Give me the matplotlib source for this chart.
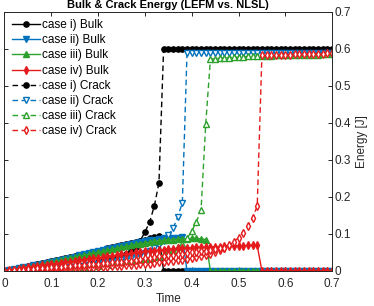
import numpy as np
import matplotlib
matplotlib.use('Agg')
import matplotlib.pyplot as plt

plt.rcParams['font.family'] = ['Liberation Sans', 'DejaVu Sans']

# time steps (dt = 0.01)
time = np.round(np.arange(0, 71) * 0.01, 2)

# case i
bulk_i = [0.000, 0.003, 0.005, 0.008, 0.010, 0.013, 0.015, 0.018, 0.021, 0.023,
          0.026, 0.029, 0.032, 0.034, 0.037, 0.040, 0.043, 0.046, 0.049, 0.052,
          0.055, 0.058, 0.061, 0.064, 0.067, 0.070, 0.073, 0.076, 0.079, 0.082,
          0.085, 0.088, 0.091, 0.094] + [0.0] * 37
crack_i = [0.000, 0.000, 0.001, 0.001, 0.002, 0.002, 0.003, 0.004, 0.005, 0.006,
           0.007, 0.008, 0.009, 0.010, 0.012, 0.013, 0.015, 0.017, 0.019, 0.021,
           0.023, 0.026, 0.029, 0.032, 0.036, 0.041, 0.047, 0.055, 0.066, 0.082,
           0.105, 0.132, 0.175, 0.238] + [0.601] * 37

# case ii
bulk_ii = [0.000, 0.003, 0.005, 0.008, 0.010, 0.012, 0.015, 0.017, 0.020, 0.022,
           0.025, 0.028, 0.030, 0.033, 0.036, 0.039, 0.042, 0.045, 0.048, 0.050,
           0.053, 0.056, 0.059, 0.062, 0.065, 0.068, 0.071, 0.073, 0.076, 0.079,
           0.081, 0.083, 0.085, 0.087, 0.088, 0.089, 0.090, 0.090, 0.091] + [0.0] * 32
crack_ii = [0.000, 0.000, 0.001, 0.001, 0.002, 0.002, 0.003, 0.003, 0.004, 0.005,
            0.006, 0.007, 0.008, 0.009, 0.010, 0.011, 0.012, 0.014, 0.015, 0.017,
            0.019, 0.021, 0.023, 0.025, 0.027, 0.030, 0.033, 0.036, 0.040, 0.044,
            0.049, 0.055, 0.062, 0.071, 0.082, 0.096, 0.115, 0.145, 0.185] + [0.590] * 32

# case iii
bulk_iii = [0.000, 0.002, 0.005, 0.007, 0.010, 0.012, 0.014, 0.017, 0.019, 0.022,
            0.024, 0.027, 0.029, 0.032, 0.035, 0.037, 0.040, 0.043, 0.045, 0.048,
            0.051, 0.054, 0.056, 0.059, 0.062, 0.064, 0.067, 0.069, 0.072, 0.074,
            0.076, 0.078, 0.080, 0.081, 0.083, 0.084, 0.085, 0.086, 0.087, 0.087,
            0.088, 0.088, 0.087, 0.085] + [0.0] * 27
crack_iii = [0.000, 0.000, 0.000, 0.001, 0.001, 0.002, 0.002, 0.003, 0.003, 0.004,
             0.004, 0.005, 0.006, 0.007, 0.008, 0.009, 0.010, 0.011, 0.012, 0.013,
             0.014, 0.016, 0.017, 0.019, 0.020, 0.022, 0.024, 0.026, 0.028, 0.030,
             0.032, 0.035, 0.038, 0.041, 0.045, 0.050, 0.056, 0.064, 0.074, 0.088,
             0.108, 0.133, 0.165, 0.398,
             0.573, 0.574, 0.575, 0.576, 0.577, 0.578, 0.578, 0.579, 0.580, 0.580,
             0.581, 0.581, 0.582, 0.582, 0.583, 0.583, 0.583, 0.584, 0.584, 0.584,
             0.585, 0.585, 0.585, 0.585, 0.586, 0.586, 0.586]

# case iv
bulk_iv = [0.000, 0.002, 0.004, 0.006, 0.008, 0.010, 0.011, 0.013, 0.015, 0.016,
           0.018, 0.020, 0.022, 0.024, 0.025, 0.027, 0.029, 0.031, 0.033, 0.034,
           0.036, 0.038, 0.040, 0.041, 0.043, 0.045, 0.046, 0.048, 0.050, 0.051,
           0.053, 0.054, 0.055, 0.057, 0.058, 0.059, 0.060, 0.061, 0.062, 0.062,
           0.063, 0.064, 0.064, 0.065, 0.065, 0.066, 0.066, 0.067, 0.067, 0.068,
           0.068, 0.068, 0.069, 0.069, 0.069] + [0.0] * 16
crack_iv = [0.000, 0.000, 0.000, 0.001, 0.001, 0.001, 0.002, 0.002, 0.003, 0.003,
            0.004, 0.004, 0.005, 0.005, 0.006, 0.007, 0.007, 0.008, 0.009, 0.009,
            0.010, 0.011, 0.012, 0.013, 0.013, 0.014, 0.015, 0.016, 0.017, 0.018,
            0.019, 0.020, 0.022, 0.023, 0.024, 0.026, 0.027, 0.029, 0.031, 0.033,
            0.035, 0.038, 0.040, 0.043, 0.047, 0.051, 0.056, 0.062, 0.070, 0.079,
            0.090, 0.104, 0.121, 0.143, 0.176,
            0.583, 0.583, 0.584, 0.584, 0.585, 0.585, 0.585, 0.586, 0.586, 0.586,
            0.587, 0.587, 0.587, 0.587, 0.588, 0.588]
# extra (unlabelled) case iv curve
extra_iv = [0.000, 0.001, 0.002, 0.003, 0.004, 0.005, 0.006, 0.007, 0.008, 0.009,
            0.010, 0.011, 0.012, 0.013, 0.014, 0.015, 0.016, 0.017, 0.018, 0.019,
            0.020, 0.021, 0.022, 0.023, 0.024, 0.025, 0.026, 0.028, 0.030, 0.032,
            0.034, 0.036, 0.038, 0.040, 0.041, 0.043, 0.044, 0.046, 0.047, 0.049,
            0.050, 0.052, 0.053, 0.055, 0.057, 0.059, 0.061, 0.063]

for s in [bulk_i, crack_i, bulk_ii, crack_ii, bulk_iii, crack_iii, bulk_iv, crack_iv]:
    assert len(s) == len(time), len(s)

cases = ['i', 'ii', 'iii', 'iv']
colors = ['black', '#0072BD', '#2CA02C', '#E41A1C']
markers = ['o', 'v', '^', 'd']
bulks = [bulk_i, bulk_ii, bulk_iii, bulk_iv]
cracks = [crack_i, crack_ii, crack_iii, crack_iv]

fig = plt.figure(figsize=(3.74, 3.06), dpi=100)
ax = fig.add_axes([0.012, 0.1144, 0.876, 0.8464])

bulk_handles = []
crack_handles = []
for case, c, m, b, cr in zip(cases, colors, markers, bulks, cracks):
    hb, = ax.plot(time, b, '-', color=c, marker=m, markersize=3.8, lw=1.0,
                  markerfacecolor=c, label=f'case {case}) Bulk')
    hc, = ax.plot(time, cr, '--', color=c, marker=m, markersize=3.8, lw=1.0,
                  markerfacecolor=c if case == 'i' else 'white',
                  dashes=(4, 2.5), label=f'case {case}) Crack')
    bulk_handles.append(hb)
    crack_handles.append(hc)
ax.plot(time[:len(extra_iv)], extra_iv, '-', color=colors[3], marker='d',
        markersize=3.8, lw=1.0, markerfacecolor='white')

ax.set_xlim(0, 0.7)
ax.set_ylim(0, 0.7)
ax.set_xticks(np.arange(0, 0.71, 0.1))
ax.set_yticks(np.arange(0, 0.71, 0.1))
ax.set_xticklabels(['0', '0.1', '0.2', '0.3', '0.4', '0.5', '0.6', '0.7'])
ax.set_yticklabels(['0', '0.1', '0.2', '0.3', '0.4', '0.5', '0.6', '0.7'])
ax.yaxis.tick_right()
ax.yaxis.set_label_position('right')
ax.tick_params(direction='in', length=3, width=0.7, top=True, left=True,
               right=True, labelsize=8.5, colors='#262626')
ax.tick_params(axis='x', pad=5)
ax.tick_params(axis='y', pad=2)
for sp in ax.spines.values():
    sp.set_color('#262626')
    sp.set_linewidth(0.7)

ax.set_xlabel('Time', fontsize=8.5, color='#262626', labelpad=2)
ax.set_ylabel('Energy [J]', fontsize=8.5, color='#262626', labelpad=3)
ax.set_title('Bulk & Crack Energy (LEFM vs. NLSL)', fontsize=8, fontweight='bold',
             pad=3)

ax.legend(handles=bulk_handles + crack_handles, loc='upper left', frameon=False,
          fontsize=8.5, handlelength=2.4, handletextpad=0.15, labelspacing=0.27,
          borderaxespad=0.3, borderpad=0.3)

fig.savefig('out.png', dpi=100)
